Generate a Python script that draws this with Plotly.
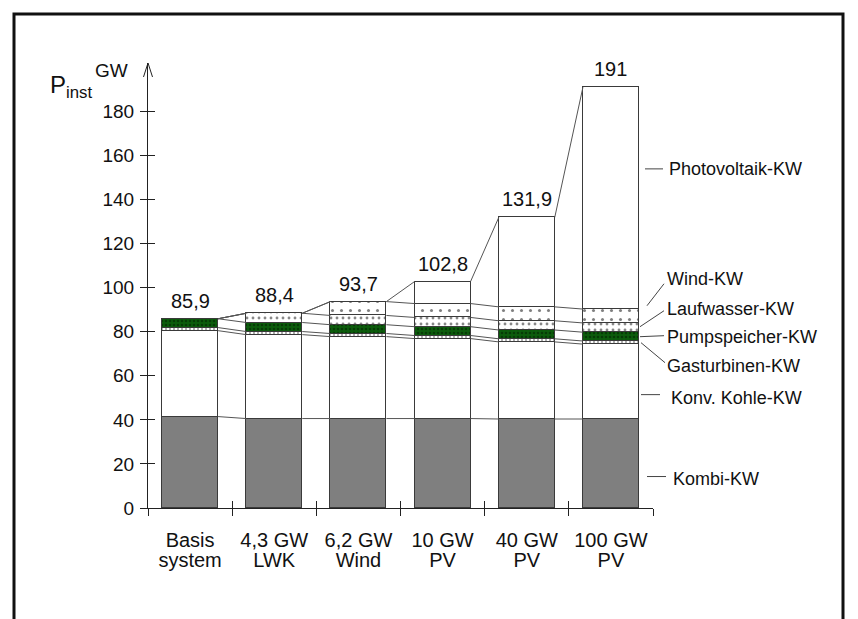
import plotly.graph_objects as go

# ---------------- data ----------------
cat_line1 = ["Basis", "4,3 GW", "6,2 GW", "10 GW", "40 GW", "100 GW"]
cat_line2 = ["system", "LWK", "Wind", "PV", "PV", "PV"]
total_labels = ["85,9", "88,4", "93,7", "102,8", "131,9", "191"]

kombi = [41.5, 40.6, 40.6, 40.6, 40.4, 40.4]
kohle = [39.0, 38.1, 37.2, 36.3, 35.0, 34.0]
gas   = [1.4, 1.4, 1.4, 1.4, 1.4, 1.4]
pump  = [4.0, 4.1, 4.0, 4.0, 4.0, 4.0]
lauf  = [0.0, 4.2, 4.2, 4.2, 4.2, 4.2]
wind  = [0.0, 0.0, 6.3, 6.3, 6.3, 6.3]
pv    = [0.0, 0.0, 0.0, 10.0, 40.6, 100.7]

series_names = ["Kombi-KW", "Konv. Kohle-KW", "Gasturbinen-KW",
                "Pumpspeicher-KW", "Laufwasser-KW", "Wind-KW", "Photovoltaik-KW"]
series_values = [kombi, kohle, gas, pump, lauf, wind, pv]

y_ticks = [0, 20, 40, 60, 80, 100, 120, 140, 160, 180]

# ---------------- styling ----------------
FONT = "Liberation Sans, Arial, sans-serif"
TXT = "#111111"
EDGE = "#3a3a3a"
W = 0.665
n = len(cat_line1)
x_pos = list(range(n))

styles = [
    dict(color="#7f7f7f"),
    dict(color="white"),
    dict(color="white", pattern=dict(shape="|", fgcolor="#111", bgcolor="white", size=4, solidity=0.35)),
    dict(color="#0c5c0c", pattern=dict(shape=".", fgcolor="#001a00", bgcolor="#0c5c0c", size=4, solidity=0.35)),
    dict(color="white", pattern=dict(shape=".", fgcolor="#111", bgcolor="white", size=6, solidity=0.18)),
    dict(color="white", pattern=dict(shape=".", fgcolor="#000", bgcolor="white", size=9, solidity=0.09)),
    dict(color="white"),
]

fig = go.Figure()

for name, vals, st in zip(series_names, series_values, styles):
    fig.add_trace(go.Bar(
        x=x_pos, y=vals, name=name, width=W,
        marker=dict(line=dict(color=EDGE, width=1), **st),
        hoverinfo="skip", showlegend=False,
    ))

# connector lines between cumulative boundaries
cum = []
run = [0.0] * n
for vals in series_values:
    run = [r + v for r, v in zip(run, vals)]
    cum.append(list(run))

for c in cum:
    xs, ys = [], []
    for i in range(n - 1):
        xs += [i + W / 2, i + 1 - W / 2, None]
        ys += [c[i], c[i + 1], None]
    fig.add_trace(go.Scatter(x=xs, y=ys, mode="lines",
                             line=dict(color="#555555", width=1),
                             hoverinfo="skip", showlegend=False))

# invisible traces so the overlay axes (crossing ticks, 2nd label line) are drawn
for xa, ya in (("x2", "y"), ("x3", "y"), ("x", "y2")):
    fig.add_trace(go.Scatter(x=[0], y=[0], xaxis=xa, yaxis=ya, mode="markers",
                             marker=dict(opacity=0, size=1),
                             hoverinfo="skip", showlegend=False))

totals = cum[-1]
for i, (t, lab) in enumerate(zip(totals, total_labels)):
    fig.add_annotation(x=i, y=t, text=lab, showarrow=False, yanchor="bottom",
                       yshift=5, font=dict(size=20, color=TXT, family=FONT))

# ---------------- pixel helpers (reference-pixel -> paper) ----------------
OFF = 8                      # page body margin
WIDTH, HEIGHT = 858 - OFF, 619 - OFF
L, R, T, B = 148, 653, 63, 508.5   # plot area in reference pixels

def px(x):
    return (x - L) / (R - L)

def py(y):
    return (B - y) / (B - T)

# right-hand labels with leader lines
labels_right = [
    ("Photovoltaik-KW", 667, 169, (645, 169), (663, 169)),
    ("Wind-KW", 665, 279, (647, 306), (664, 284)),
    ("Laufwasser-KW", 665, 309, (640, 327), (664, 311)),
    ("Pumpspeicher-KW", 665, 337, (640, 337), (664, 336)),
    ("Gasturbinen-KW", 665, 366, (641, 343), (665, 363)),
    ("Konv. Kohle-KW", 669, 398, (641, 395), (660, 395)),
    ("Kombi-KW", 671, 479, (647, 477), (666, 477)),
]
for text, tx, ty, p0, p1 in labels_right:
    fig.add_annotation(xref="paper", yref="paper", x=px(tx), y=py(ty), text=text,
                       showarrow=False, xanchor="left", yanchor="middle",
                       font=dict(size=18, color=TXT, family=FONT))
    fig.add_shape(type="line", xref="paper", yref="paper",
                  x0=px(p0[0]), y0=py(p0[1]), x1=px(p1[0]), y1=py(p1[1]),
                  line=dict(color="#444", width=1))

# y axis arrow head
for dx in (-4.5, 4.5):
    fig.add_shape(type="line", xref="paper", yref="paper",
                  x0=px(148), y0=py(63), x1=px(148 + dx), y1=py(77),
                  line=dict(color="#222", width=1))

# axis title P_inst and GW
fig.add_annotation(xref="paper", yref="paper", x=px(48), y=py(87), text="P<sub>inst</sub>",
                   showarrow=False, xanchor="left", yanchor="middle",
                   font=dict(size=24, color=TXT, family=FONT))
fig.add_annotation(xref="paper", yref="paper", x=px(130), y=py(71), text="GW",
                   showarrow=False, xanchor="right", yanchor="middle",
                   font=dict(size=19, color=TXT, family=FONT))

# frame
fig.add_shape(type="rect", xref="paper", yref="paper",
              x0=px(14), y0=py(14), x1=px(843), y1=py(640),
              line=dict(color="#111", width=3), fillcolor="rgba(0,0,0,0)", layer="below")

boundaries = [i - 0.5 for i in range(n + 1)]
xr = [-0.5, n - 0.5]
CAT_FONT = dict(size=20, color=TXT, family=FONT)

fig.update_layout(
    width=WIDTH, height=HEIGHT,
    margin=dict(l=L - OFF, r=WIDTH - (R - OFF), t=T - OFF, b=HEIGHT - (B - OFF)),
    barmode="stack", bargap=0,
    plot_bgcolor="white", paper_bgcolor="white",
    font=dict(family=FONT, color=TXT),
    xaxis=dict(range=xr, tickvals=x_pos, ticktext=cat_line1,
               ticks="", showline=True, linecolor="#222", linewidth=1,
               showgrid=False, zeroline=False, ticklabelstandoff=14,
               tickfont=CAT_FONT,
               minor=dict(tickmode="array", tickvals=boundaries, ticks="outside",
                          ticklen=7, tickcolor="#222", tickwidth=1, showgrid=False)),
    xaxis2=dict(overlaying="x", anchor="y", side="bottom", range=xr,
                tickvals=boundaries, ticks="inside", ticklen=7, tickcolor="#222",
                showticklabels=False, showline=False, showgrid=False, zeroline=False),
    xaxis3=dict(overlaying="x", anchor="y", side="bottom", range=xr,
                tickvals=x_pos, ticktext=cat_line2, ticks="", ticklabelstandoff=38,
                tickfont=CAT_FONT,
                showline=False, showgrid=False, zeroline=False),
    yaxis=dict(range=[0, 202], tickvals=y_ticks, ticks="outside", ticklen=7,
               tickcolor="#222", showline=True, linecolor="#222", linewidth=1,
               showgrid=False, zeroline=False, ticklabelstandoff=2,
               tickfont=dict(size=19, color=TXT, family=FONT)),
    yaxis2=dict(overlaying="y", anchor="x", side="left", range=[0, 202],
                tickvals=y_ticks, ticks="inside", ticklen=7, tickcolor="#222",
                showticklabels=False, showline=False, showgrid=False, zeroline=False),
)

fig.write_html("out.html")
